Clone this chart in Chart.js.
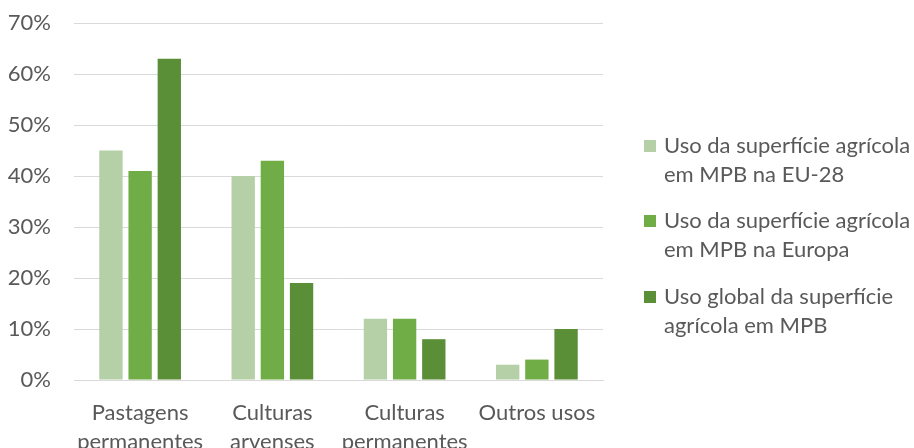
<!DOCTYPE html>
<html lang="pt">

<head>
    <meta charset="UTF-8">
    <meta name="viewport" content="width=device-width, initial-scale=1.0">
    <script src="https://cdn.jsdelivr.net/npm/chart.js@4.4.1/dist/chart.umd.min.js"></script>
    <title>Uso da superfície agrícola em MPB</title>
    <style>
        html, body { margin: 0; padding: 0; background: #fff; }
        #wrap { width: 914px; height: 448px; }
    </style>
</head>

<body>
    <div id="wrap"><canvas id="chart"></canvas></div>

    <script>
        // categorias (eixo x) e séries, em percentagem
        const categorias = [
            ["Pastagens", "permanentes"],
            ["Culturas", "arvenses"],
            ["Culturas", "permanentes"],
            ["Outros usos"]
        ]
        const eu28 = [45, 40, 12, 3]
        const europa = [41, 43, 12, 4]
        const global = [63, 19, 8, 10]

        const nomesSeries = [
            ["Uso da superfície agrícola", "em MPB na EU-28"],
            ["Uso da superfície agrícola", "em MPB na Europa"],
            ["Uso global da superfície", "agrícola em MPB"]
        ]
        const cores = ["#B5CFA6", "#70AD47", "#5A8E37"]

        const textColor = "#595959"
        const fontFamily = "Lato, 'Open Sans', sans-serif"

        // legenda desenhada à mão, com quebra de linha como no Excel
        const legendaDireita = {
            id: "legendaDireita",
            afterDraw(chart) {
                const ctx = chart.ctx
                const x0 = chart.chartArea.right + 41
                const ys = [146, 221, 297]
                ctx.save()
                ctx.font = "22px " + fontFamily
                ctx.fillStyle = textColor
                ctx.textBaseline = "middle"
                chart.data.datasets.forEach((ds, i) => {
                    ctx.fillStyle = ds.backgroundColor
                    ctx.fillRect(x0, ys[i] - 6, 12, 12)
                    ctx.fillStyle = textColor
                    ds.label.forEach((linha, j) => {
                        ctx.fillText(linha, x0 + 20, ys[i] + j * 29)
                    })
                })
                ctx.restore()
            }
        }

        const ctx = document.getElementById("chart").getContext("2d")
        const myChart = new Chart(ctx, {
            type: "bar",
            data: {
                labels: categorias,
                datasets: [
                    { label: nomesSeries[0], data: eu28, backgroundColor: cores[0] },
                    { label: nomesSeries[1], data: europa, backgroundColor: cores[1] },
                    { label: nomesSeries[2], data: global, backgroundColor: cores[2] }
                ]
            },
            options: {
                responsive: true,
                maintainAspectRatio: false,
                animation: false,
                categoryPercentage: 0.662,
                barPercentage: 0.8,
                layout: { padding: { top: 23, right: 311, left: 0, bottom: 0 } },
                plugins: {
                    legend: { display: false },
                    tooltip: { enabled: false }
                },
                scales: {
                    x: {
                        grid: { display: false, drawTicks: false },
                        border: { display: true, color: "#D9D9D9", width: 1 },
                        ticks: {
                            color: textColor,
                            font: { family: fontFamily, size: 22, lineHeight: 1.32 },
                            padding: 18,
                            maxRotation: 0,
                            autoSkip: false
                        },
                        afterFit(scale) {
                            scale.height = 68
                            scale.paddingLeft = 0
                            scale.paddingRight = 0
                        }
                    },
                    y: {
                        min: 0,
                        max: 70,
                        grid: { color: "#D9D9D9", lineWidth: 1, drawTicks: false },
                        border: { display: false },
                        ticks: {
                            stepSize: 10,
                            color: textColor,
                            font: { family: fontFamily, size: 22 },
                            padding: 23,
                            callback: v => v + "%"
                        },
                        afterFit(scale) {
                            scale.width = 74
                            scale.paddingTop = 0
                            scale.paddingBottom = 0
                        }
                    }
                }
            },
            plugins: [legendaDireita]
        })
    </script>
</body>

</html>
